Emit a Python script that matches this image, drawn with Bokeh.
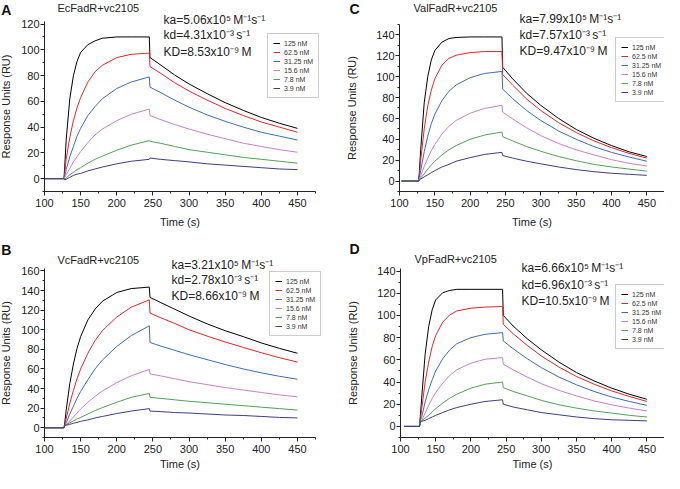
from bokeh.plotting import figure
from bokeh.layouts import column, row
from bokeh.models import Label, SingleIntervalTicker, Legend, LegendItem
from bokeh.embed import file_html
from bokeh.resources import INLINE

FONT = "Liberation Sans"

CONC_LABELS = ["125 nM", "62.5 nM", "31.25 nM", "15.6 nM", "7.8 nM", "3.9 nM"]
COLORS = ["#000000", "#e3262a", "#3d6db3", "#c682c8", "#56a056", "#3e3e7e"]

# time points (s)
T_ASSOC = [128, 130, 135, 140, 145, 150, 160, 170, 180, 200, 220, 245]
T_DISS = [246, 260, 280, 300, 325, 350, 375, 400, 425, 450]

# ---------------- Panel A : EcFadR+vc2105 ----------------
A_BASE_START = 100
A_ASSOC = [
    [10, 30, 62, 80, 91, 98, 104, 107, 109, 110, 110, 110],
    [5, 15, 32, 45, 55, 63, 75, 83, 88, 94, 96.5, 97.5],
    [2, 7, 17, 25, 33, 39, 49, 56, 62, 70, 75, 79],
    [1, 3, 8, 13, 17, 21, 28, 34, 38.5, 45, 50, 54],
    [-0.5, 0.5, 3, 5, 7, 8.5, 12, 15, 17.5, 22, 26, 29.5],
    [-1, -0.5, 1, 2.5, 3.5, 4, 6, 7.5, 9, 11.5, 13.5, 15],
]
A_DISS = [
    [94, 88.5, 80.5, 73.5, 66, 59, 53, 47.5, 43, 39],
    [87, 82, 74.5, 68, 61, 54.5, 49, 44, 40, 36],
    [71, 67, 61, 55.5, 49.5, 44.5, 40, 36, 33, 30],
    [49, 46, 42, 38.5, 34.5, 31, 27.5, 25, 22.5, 20.5],
    [29, 27.5, 25, 22.5, 20.5, 18.5, 16.5, 15, 13.5, 12],
    [16, 15, 14, 13, 11.5, 10.5, 9.5, 8.5, 7.5, 7],
]
A_TEXT = ["EcFadR+vc2105", "ka=5.06x10\u2075\u2009M\u207b\u00b9s\u207b\u00b9",
          "kd=4.31x10\u207b\u00b3\u2009s\u207b\u00b9", "KD=8.53x10\u207b\u2079\u2009M"]

# ---------------- Panel C : ValFadR+vc2105 ----------------
C_BASE_START = 103
C_ASSOC = [
    [8, 30, 75, 100, 116, 125, 133, 136.5, 137.5, 138, 138, 138],
    [5, 20, 50, 72, 87, 98, 111, 117.5, 120.5, 123, 124, 124],
    [3, 10, 28, 43, 55, 64, 77, 86, 92, 99, 103, 105],
    [2, 5, 14, 22, 29, 35, 45, 52.5, 58, 65, 69.5, 72.5],
    [1, 3, 7, 11.5, 15.5, 19, 25, 30, 34, 40, 44, 47],
    [1, 2, 4, 6, 8, 10, 13.5, 16, 19, 22.5, 25.5, 27.5],
]
C_DISS = [
    [109, 98, 84, 72.5, 60, 49.5, 41, 34, 28, 23.5],
    [102, 92, 78.5, 67.5, 56, 46.5, 38.5, 32, 26.5, 22],
    [88, 79, 67.5, 58, 48, 40, 33, 27.5, 23, 19],
    [66, 59.5, 51, 43.5, 36, 30, 25, 20.5, 17, 14.5],
    [42.5, 38.5, 33, 28.5, 23.5, 19.5, 16, 13.5, 11.5, 9.5],
    [24.5, 22, 19, 16.5, 13.5, 11, 9, 7.5, 6.5, 5.5],
]
C_TEXT = ["ValFadR+vc2105", "ka=7.99x10\u2075\u2009M\u207b\u00b9s\u207b\u00b9",
          "kd=7.57x10\u207b\u00b3\u2009s\u207b\u00b9", "KD=9.47x10\u207b\u2079\u2009M"]

# ---------------- Panel B : VcFadR+vc2105 ----------------
B_BASE_START = 100
B_ASSOC = [
    [5, 18, 45, 65, 81, 93, 110, 121, 129, 138, 142, 143.5],
    [3, 9, 25, 38, 50, 60, 76, 89, 99, 113, 123, 130.5],
    [2, 5, 14, 22, 30, 37, 49, 60, 69, 83, 94, 104],
    [1.5, 3, 7, 11, 15, 19, 26, 32, 37.5, 46, 53, 59.5],
    [2, 3, 5, 7, 9, 10.5, 14, 17.5, 20.5, 26, 31, 35],
    [2, 2.5, 3.5, 4.5, 5.5, 6.5, 8, 10, 11.5, 14.5, 17, 19.5],
]
B_DISS = [
    [133, 128, 121, 114, 106, 99, 93, 86.5, 81, 76],
    [117, 112.5, 106.5, 100, 93.5, 87.5, 82, 76.5, 71.5, 67],
    [87, 83.5, 79, 74.5, 69.5, 64.5, 60, 56, 52.5, 49.5],
    [55, 53, 50, 47, 44, 41, 38.5, 36, 33.5, 31.5],
    [31, 30, 28.5, 27, 25.5, 24, 22.5, 21, 19.5, 18],
    [17, 16.5, 15.5, 15, 14, 13, 12.5, 11.5, 10.5, 10],
]
B_TEXT = ["VcFadR+vc2105", "ka=3.21x10\u2075\u2009M\u207b\u00b9s\u207b\u00b9",
          "kd=2.78x10\u207b\u00b3\u2009s\u207b\u00b9", "KD=8.66x10\u207b\u2079\u2009M"]

# ---------------- Panel D : VpFadR+vc2105 ----------------
D_BASE_START = 105
D_ASSOC = [
    [8, 25, 65, 90, 105, 114, 120.5, 122.5, 123.5, 123.5, 123.5, 123.5],
    [6, 15, 40, 58, 72, 82, 94, 100.5, 104, 106.5, 107.5, 108],
    [5, 8, 22, 33, 42, 50, 61, 69, 74.5, 80, 83, 84.5],
    [4, 5, 12, 19, 25, 30.5, 39, 46, 51, 57, 60.5, 62],
    [4, 5, 7.5, 10, 13, 16, 21, 25.5, 29, 34.5, 38, 40],
    [4, 4.5, 5.5, 7, 8.5, 10, 12.5, 15, 17, 20, 22.5, 24],
]
D_DISS = [
    [100, 90.5, 79, 69, 58, 48.5, 41, 34.5, 29, 24.5],
    [92, 83.5, 73, 63.5, 53.5, 45, 38, 32, 27, 22.5],
    [77, 70, 61, 53, 44.5, 37.5, 31.5, 26.5, 22.5, 19],
    [56, 51, 44.5, 38.5, 32.5, 27.5, 23, 19.5, 16.5, 14],
    [35, 31.5, 27.5, 23.5, 19.5, 16.5, 14, 12, 10, 8.5],
    [20, 17.5, 15, 12.5, 10.5, 8.5, 7, 6, 5.5, 5],
]
D_TEXT = ["VpFadR+vc2105", "ka=6.66x10\u2075\u2009M\u207b\u00b9s\u207b\u00b9",
          "kd=6.96x10\u207b\u00b3\u2009s\u207b\u00b9", "KD=10.5x10\u207b\u2079\u2009M"]


def make_panel(w, h, xr, yr, ybounds, base_start, assoc, diss, letter, letter_xy,
               texts, title_xy, kin_x, kin_ys, legend_loc, ylab_standoff, xlab_standoff):
    p = figure(width=w, height=h, x_range=xr, y_range=yr,
               output_backend="svg", toolbar_location=None,
               min_border_left=0, min_border_right=0, min_border_top=0,
               min_border_bottom=0, outline_line_color=None,
               background_fill_color="white", border_fill_color="white")
    p.grid.visible = False

    p.xaxis.ticker = SingleIntervalTicker(interval=50, num_minor_ticks=2)
    p.yaxis.ticker = SingleIntervalTicker(interval=20, num_minor_ticks=2)
    p.xaxis.bounds = (100, 475)
    p.yaxis.bounds = ybounds
    p.yaxis.fixed_location = 100
    p.xaxis.fixed_location = ybounds[0]
    for ax in (p.xaxis[0], p.yaxis[0]):
        ax.axis_line_color = "#222222"
        ax.major_tick_line_color = "#222222"
        ax.minor_tick_line_color = "#222222"
        ax.major_tick_out = 4
        ax.major_tick_in = 0
        ax.minor_tick_out = 2
        ax.minor_tick_in = 0
        ax.major_label_text_font = FONT
        ax.major_label_text_font_size = "11px"
        ax.major_label_text_color = "#222222"
        ax.axis_label_text_font = FONT
        ax.axis_label_text_font_size = "11px"
        ax.axis_label_text_font_style = "normal"
        ax.axis_label_text_color = "#222222"
    p.xaxis.axis_label = "Time (s)"
    p.yaxis.axis_label = "Response Units (RU)"
    p.yaxis.major_label_standoff = 1
    p.xaxis.major_label_standoff = 3
    p.yaxis.axis_label_standoff = ylab_standoff
    p.xaxis.axis_label_standoff = xlab_standoff

    items = []
    for i in range(len(CONC_LABELS)):
        xs = [base_start, 127] + T_ASSOC + T_DISS
        ys = [0, 0] + assoc[i] + diss[i]
        r = p.line(xs, ys, line_color=COLORS[i], line_width=1)
        items.append(LegendItem(label=CONC_LABELS[i], renderers=[r]))

    leg = Legend(items=items, location=legend_loc)
    leg.label_text_font = FONT
    leg.label_text_font_size = "7px"
    leg.label_text_color = "#333333"
    leg.glyph_width = 7
    leg.glyph_height = 8
    leg.label_height = 8
    leg.label_standoff = 4
    leg.spacing = 1
    leg.padding = 5
    leg.margin = 0
    leg.border_line_color = "#9a9a9a"
    leg.border_line_width = 1
    leg.background_fill_color = "white"
    leg.background_fill_alpha = 1
    p.add_layout(leg)

    p.add_layout(Label(x=letter_xy[0], y=letter_xy[1], text=letter, text_font=FONT,
                       text_font_size="14px", text_font_style="bold",
                       text_color="#111111", text_align="left", text_baseline="middle"))
    p.add_layout(Label(x=title_xy[0], y=title_xy[1], text=texts[0], text_font=FONT,
                       text_font_size="11px", text_color="#222222",
                       text_align="left", text_baseline="middle"))
    for t, yy in zip(texts[1:], kin_ys):
        p.add_layout(Label(x=kin_x, y=yy, text=t, text_font=FONT,
                           text_font_size="12px", text_color="#222222",
                           text_align="left", text_baseline="middle"))
    return p


pA = make_panel(332, 233, (39.12, 498.5), (-42.6, 138.3), (-10, 122),
                A_BASE_START, A_ASSOC, A_DISS,
                "A", (40, 131.3), A_TEXT, (118, 132.1), 264.7, [123.5, 111.9, 98.7],
                (267, 135), 6, 6)
pC = make_panel(332, 233, (5.19, 475), (-50.2, 172.9), (-10, 150),
                C_BASE_START, C_ASSOC, C_DISS,
                "C", (29.2, 164.3), C_TEXT, (119.8, 165.3), 269.8, [154.8, 139.4, 124.1],
                (283, 131), 15, 6)
pB = make_panel(332, 240, (39.12, 498.5), (-46.7, 198.2), (-10, 162),
                B_BASE_START, B_ASSOC, B_DISS,
                "B", (40, 181.8), B_TEXT, (118, 171.6), 275.7, [166.5, 151.2, 134.9],
                (269, 137), 6, 2)
pD = make_panel(332, 240, (3.41, 475), (-42.4, 173.8), (-10, 142),
                D_BASE_START, D_ASSOC, D_DISS,
                "D", (27.6, 159.4), D_TEXT, (119.9, 150.4), 271.9, [142.3, 127.8, 113.4],
                (283, 124), 15, 2)

layout = column(row(pA, pC), row(pB, pD))
open("out.html", "w").write(file_html(layout, INLINE))
